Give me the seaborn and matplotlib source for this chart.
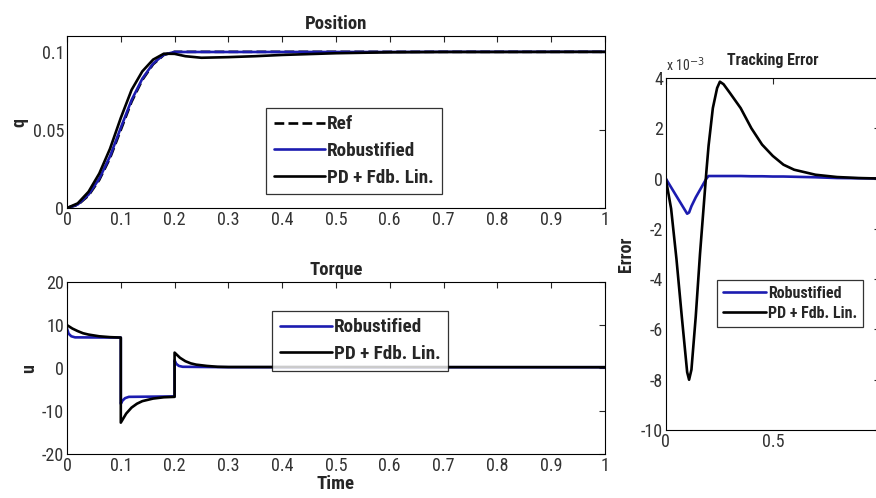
import numpy as np
import pandas as pd
import matplotlib
matplotlib.use("Agg")
import matplotlib.pyplot as plt
import seaborn as sns

# position
pos_time = [0, 0.02, 0.04, 0.06, 0.08, 0.10, 0.12, 0.14, 0.16, 0.18, 0.20,
            0.22, 0.25, 0.30, 0.35, 0.40, 0.50, 0.60, 0.70, 0.80, 1.00]
pos_ref = [0, 0.002, 0.008, 0.018, 0.032, 0.050, 0.068, 0.082, 0.092, 0.098, 0.100,
           0.100, 0.100, 0.100, 0.100, 0.100, 0.100, 0.100, 0.100, 0.100, 0.100]
pos_robust = [0, 0.0023, 0.0086, 0.0188, 0.0331, 0.0514, 0.0691, 0.0828, 0.0925, 0.0982, 0.0999,
              0.0999, 0.0999, 0.0999, 0.0999, 0.0999, 0.0999, 0.0999, 0.1000, 0.1000, 0.1000]
pos_pd = [0, 0.0030, 0.0104, 0.0221, 0.0380, 0.0577, 0.0756, 0.0875, 0.0950, 0.0988, 0.0987,
          0.0972, 0.0962, 0.0966, 0.0972, 0.0980, 0.0991, 0.0997, 0.0999, 0.0999, 0.1000]

# torque
tq_time_robust = [0, 0.003, 0.008, 0.015, 0.1, 0.1, 0.103, 0.108, 0.115, 0.2, 0.2,
                  0.203, 0.208, 0.215, 0.3, 1.0]
tq_robust = [9.2, 8.0, 7.4, 7.15, 7.1, -8.3, -7.6, -7.0, -6.7, -6.6, 1.8,
             1.0, 0.5, 0.3, 0.2, 0.2]
tq_time_pd = [0, 0.01, 0.02, 0.03, 0.04, 0.06, 0.08, 0.1, 0.1, 0.11, 0.12, 0.13, 0.14,
              0.16, 0.18, 0.2, 0.2, 0.21, 0.22, 0.23, 0.24, 0.26, 0.28, 0.3, 1.0]
tq_pd = [10.0, 9.2, 8.6, 8.1, 7.8, 7.4, 7.2, 7.1, -12.7, -10.6, -9.2, -8.3, -7.7,
         -7.1, -6.8, -6.7, 3.6, 2.4, 1.6, 1.1, 0.8, 0.5, 0.3, 0.25, 0.2]

# tracking error (x 1e-3)
err_time = [0, 0.025, 0.05, 0.075, 0.10, 0.109, 0.12, 0.14, 0.16, 0.18, 0.19, 0.20,
            0.22, 0.24, 0.253, 0.27, 0.30, 0.35, 0.40, 0.45, 0.50, 0.55, 0.60,
            0.70, 0.80, 0.90, 1.00]
err_robust = [0, -0.35, -0.7, -1.05, -1.4, -1.35, -1.1, -0.75, -0.45, -0.15, 0.0, 0.1,
              0.1, 0.1, 0.1, 0.1, 0.1, 0.1, 0.09, 0.09, 0.08, 0.08, 0.07,
              0.05, 0.02, 0.01, 0.0]
err_pd = [0, -1.2, -3.2, -5.5, -7.7, -8.0, -7.6, -5.5, -3.0, -0.8, 0.3, 1.3,
          2.8, 3.6, 3.85, 3.75, 3.4, 2.8, 2.0, 1.35, 0.9, 0.55, 0.35,
          0.15, 0.06, 0.02, 0.0]

sns.set_style("white")
plt.rcParams['font.family'] = ['Roboto Condensed', 'Liberation Sans Narrow',
                               'Liberation Sans', 'DejaVu Sans']
plt.rcParams['axes.unicode_minus'] = False

BLUE = "#1c1cb0"
LW = 1.9
TICK_COLOR = "#333333"

fig = plt.figure(figsize=(8.76, 4.98), dpi=100)
ax_pos = fig.add_axes([0.0765, 0.5823, 0.614, 0.345])
ax_tq = fig.add_axes([0.0765, 0.0884, 0.614, 0.345])
ax_err = fig.add_axes([0.760, 0.1365, 0.2443, 0.707])


def style_axis(ax):
    ax.tick_params(direction='in', top=True, right=True, length=4,
                   labelsize=13, width=0.8, pad=2, labelcolor=TICK_COLOR)
    for s in ax.spines.values():
        s.set_color("black")
        s.set_linewidth(0.8)


def add_legend(ax, anchor, size, spacing, hlen=2.7):
    leg = ax.legend(loc="upper left", bbox_to_anchor=anchor, frameon=True,
                    fancybox=False, edgecolor="black", handlelength=hlen,
                    handletextpad=0.1, borderpad=0.4, labelspacing=spacing,
                    prop={"weight": "bold", "size": size})
    leg.get_frame().set_linewidth(0.9)
    return leg


sns.lineplot(x=pos_time, y=pos_ref, ax=ax_pos, color="black", lw=LW,
             linestyle="--", estimator=None, sort=False, label="Ref")
sns.lineplot(x=pos_time, y=pos_robust, ax=ax_pos, color=BLUE, lw=LW,
             estimator=None, sort=False, label="Robustified")
sns.lineplot(x=pos_time, y=pos_pd, ax=ax_pos, color="black", lw=LW,
             estimator=None, sort=False, label="PD + Fdb. Lin.")
ax_pos.set_xlim(0, 1)
ax_pos.set_ylim(0, 0.11)
ax_pos.set_xticks(np.arange(0, 1.01, 0.1))
ax_pos.set_xticklabels(["0", "0.1", "0.2", "0.3", "0.4", "0.5", "0.6", "0.7", "0.8", "0.9", "1"])
ax_pos.set_yticks([0, 0.05, 0.1])
ax_pos.set_yticklabels(["0", "0.05", "0.1"])
ax_pos.set_title("Position", fontsize=13.5, fontweight="bold", pad=5)
ax_pos.set_ylabel("q", fontsize=13, fontweight="bold", labelpad=3)
style_axis(ax_pos)
add_legend(ax_pos, (0.352, 0.64), 13.8, 0.45)

sns.lineplot(x=tq_time_robust, y=tq_robust, ax=ax_tq, color=BLUE, lw=LW,
             estimator=None, sort=False, label="Robustified")
sns.lineplot(x=tq_time_pd, y=tq_pd, ax=ax_tq, color="black", lw=LW,
             estimator=None, sort=False, label="PD + Fdb. Lin.")
ax_tq.set_xlim(0, 1)
ax_tq.set_ylim(-20, 20)
ax_tq.set_xticks(np.arange(0, 1.01, 0.1))
ax_tq.set_xticklabels(["0", "0.1", "0.2", "0.3", "0.4", "0.5", "0.6", "0.7", "0.8", "0.9", "1"])
ax_tq.set_yticks([-20, -10, 0, 10, 20])
ax_tq.set_title("Torque", fontsize=13.5, fontweight="bold", pad=5)
ax_tq.set_ylabel("u", fontsize=13, fontweight="bold", labelpad=3)
ax_tq.set_xlabel("Time", fontsize=13.5, fontweight="bold", labelpad=0)
style_axis(ax_tq)
add_legend(ax_tq, (0.364, 0.89), 13.8, 0.45)

sns.lineplot(x=err_time, y=err_robust, ax=ax_err, color=BLUE, lw=LW,
             estimator=None, sort=False, label="Robustified")
sns.lineplot(x=err_time, y=err_pd, ax=ax_err, color="black", lw=LW,
             estimator=None, sort=False, label="PD + Fdb. Lin.")
ax_err.set_xlim(0, 1)
ax_err.set_ylim(-10, 4)
ax_err.set_xticks([0, 0.5, 1])
ax_err.set_xticklabels(["0", "0.5", ""])
ax_err.set_yticks([-10, -8, -6, -4, -2, 0, 2, 4])
ax_err.set_title("Tracking Error", fontsize=11.5, fontweight="bold", pad=9)
ax_err.set_ylabel("Error", fontsize=13, fontweight="bold", labelpad=4)
ax_err.text(0.0, 1.012, r"x 10$^{-3}$", transform=ax_err.transAxes,
            fontsize=10, ha="left", va="bottom", color=TICK_COLOR)
style_axis(ax_err)
add_legend(ax_err, (0.2, 0.45), 11.5, 0.3)

fig.savefig("out.png", dpi=100)
